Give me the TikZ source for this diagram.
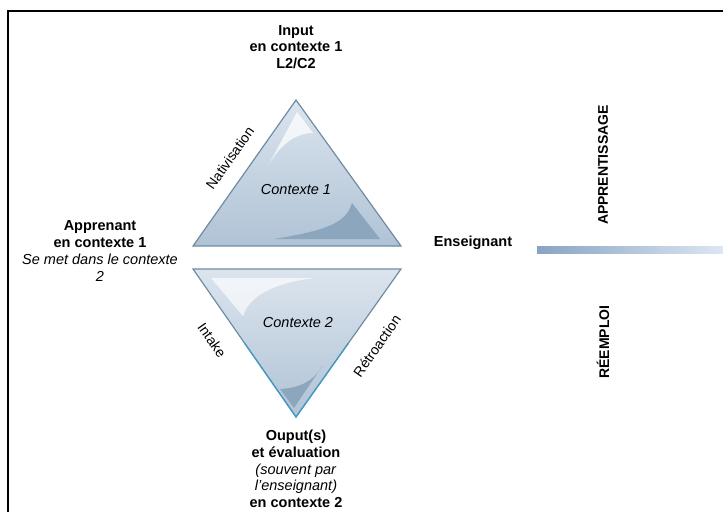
\documentclass[tikz,border=0pt]{standalone}
\usepackage{fontspec}
\setmainfont{Liberation Sans}
\usetikzlibrary{calc}
\definecolor{edgegray}{HTML}{6F8CA2}
\definecolor{edgeblue}{HTML}{3E9CC4}
\definecolor{triTop}{HTML}{DCE5EE}
\definecolor{triBot}{HTML}{AFC2D5}
\definecolor{darkpart}{HTML}{8CA6BE}
\definecolor{barL}{HTML}{88A4C4}
\definecolor{barR}{HTML}{DDE6F3}
\tikzset{
  lbl/.style={font=\fontsize{14.5}{16.7}\selectfont, align=center, inner sep=0pt},
  side/.style={font=\fontsize{14}{16}\selectfont, inner sep=0pt},
  vert/.style={font=\bfseries\fontsize{14}{16}\selectfont, inner sep=0pt, rotate=90},
  tri/.style={draw=edgegray, line width=1.2pt, line join=miter},
}
\begin{document}
\begin{tikzpicture}[x=1pt,y=-1pt]
\useasboundingbox (0,0) rectangle (723,512);
% frame
\draw[line width=2.2pt] (8,512) -- (8,11) -- (723,11);
% upper triangle
\coordinate (ua) at (296,100);
\coordinate (ul) at (193,246);
\coordinate (ur) at (401,246);
\begin{scope}
  \clip (ua) -- (ul) -- (ur) -- cycle;
  \shade[top color=triTop, bottom color=triBot] (190,98) rectangle (404,248);
  \fill[white, opacity=0.75] (297,112) -- (313,133) .. controls (293,133) and (278,148) .. (268,166) -- cycle;
  \fill[darkpart] (274,239) .. controls (330,230) and (346,222) .. (352,203) -- (380,239) -- cycle;
\end{scope}
\draw[tri] (ua) -- (ul) -- (ur) -- cycle;
% lower triangle
\coordinate (ll) at (193,269);
\coordinate (lr) at (401,269);
\coordinate (lb) at (296,417);
\begin{scope}
  \clip (ll) -- (lr) -- (lb) -- cycle;
  \shade[top color=triTop, bottom color=triBot] (190,267) rectangle (404,420);
  \fill[white, opacity=0.65] (211,278) -- (314,278) .. controls (275,283) and (250,295) .. (243,316) -- cycle;
  \fill[darkpart] (323,365) .. controls (312,384) and (296,388) .. (280,389) -- (294,408) -- cycle;
\end{scope}
\draw[tri] (lb) -- (ll) -- (lr) -- cycle;
\draw[draw=edgeblue, line width=1.2pt, line join=miter] ($(ll)!0.5!(lb)$) -- (lb) -- ($(lr)!0.5!(lb)$);
% bar
\shade[left color=barL, right color=barR] (537,246) rectangle (723,253);
% texts
\node[lbl, font=\bfseries\fontsize{14.5}{16.7}\selectfont] (input) at (296,47) {Input\\en contexte 1\\L2/C2};
\node[lbl, font=\itshape\fontsize{14.5}{16}\selectfont] (c1) at (296,190) {Contexte 1};
\node[lbl, font=\itshape\fontsize{14.5}{16}\selectfont] (c2) at (298,323) {Contexte 2};
\node[lbl] (appr) at (100,251) {\textbf{Apprenant}\\\textbf{en contexte 1}\\\textit{Se met dans le contexte}\\\textit{2}};
\node[lbl, font=\bfseries\fontsize{14.5}{16}\selectfont] (ens) at (473,243) {Enseignant};
\node[lbl] (out) at (296,469) {\textbf{Ouput(s)}\\\textbf{et évaluation}\\\textit{(souvent par}\\\textit{l'enseignant)}\\\textbf{en contexte 2}};
\node[side, rotate=54.8] (nat) at (230,158) {Nativisation};
\node[side, rotate=-55] (intake) at (212,340) {Intake};
\node[side, rotate=55] (retro) at (377,346) {Rétroaction};
\node[vert] (app) at (603,165) {APPRENTISSAGE};
\node[vert] (reem) at (603,342) {RÉEMPLOI};
\end{tikzpicture}
\end{document}
